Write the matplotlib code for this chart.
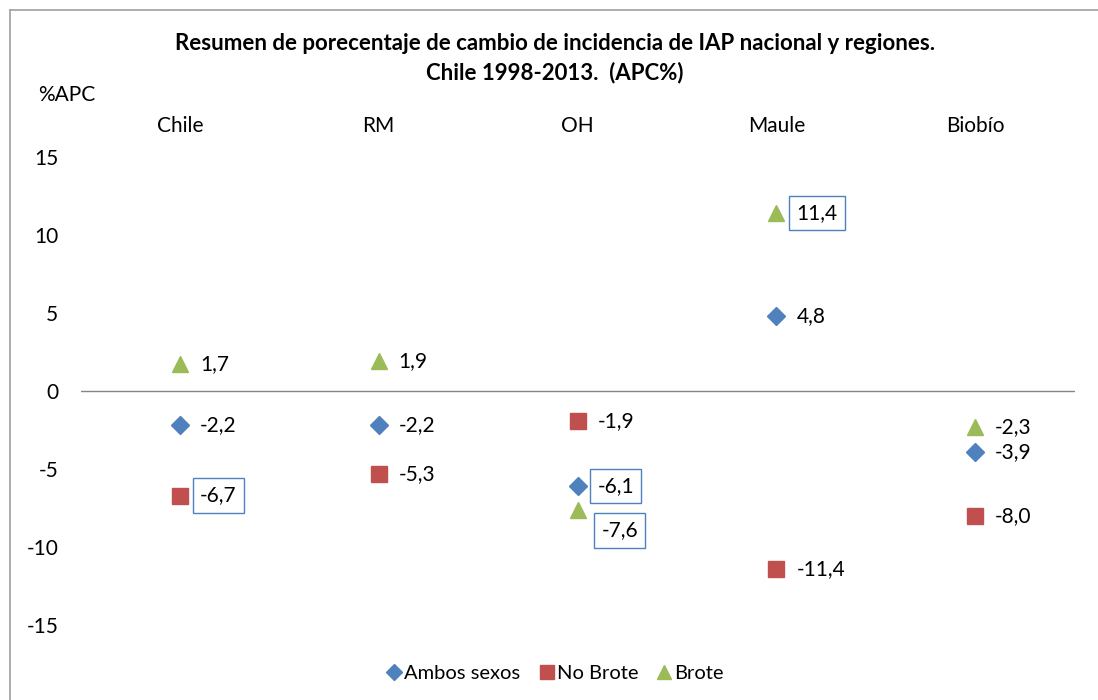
import matplotlib
matplotlib.use("Agg")
import matplotlib.pyplot as plt
from matplotlib.lines import Line2D

plt.rcParams['font.family'] = ['Lato', 'DejaVu Sans']

categories = ["Chile", "RM", "OH", "Maule", "Biobío"]
ambos = [-2.2, -2.2, -6.1, 4.8, -3.9]
no_brote = [-6.7, -5.3, -1.9, -11.4, -8.0]
brote = [1.7, 1.9, -7.6, 11.4, -2.3]
yticks = [15, 10, 5, 0, -5, -10, -15]

# labels with a box: (series, index)
boxed = {("ambos", 2), ("no_brote", 0), ("brote", 2), ("brote", 3)}

W, H = 1098, 700
fig = plt.figure(figsize=(W / 100, H / 100), dpi=100)
fig.patch.set_facecolor("white")

ymin, ymax = -19.0, 16.0
ppu = 15.6
y0pix = 391
top_pix = y0pix - ymax * ppu
bot_pix = y0pix - ymin * ppu
left_pix, right_pix = 80.5, 1074.5
ax = fig.add_axes([left_pix / W, 1 - bot_pix / H, (right_pix - left_pix) / W, (bot_pix - top_pix) / H])
ax.set_xlim(-0.5, 4.5)
ax.set_ylim(ymin, ymax)
for s in ax.spines.values():
    s.set_visible(False)
ax.axhline(0, color="#868686", lw=1.0, zorder=1)

FS = 15
ax.set_yticks(yticks)
ax.set_yticklabels([str(v) for v in yticks], fontsize=FS)
ax.tick_params(axis="y", length=0, pad=16)
ax.set_xticks(range(len(categories)))
ax.set_xticklabels(categories, fontsize=FS)
ax.xaxis.set_ticks_position("top")
ax.tick_params(axis="x", length=0, pad=4)

blue, red, green = "#4F81BD", "#C0504D", "#9BBB59"
x = list(range(len(categories)))
ax.plot(x, ambos, ls="none", marker="D", ms=9.5, color=blue, mec=blue, zorder=3)
ax.plot(x, no_brote, ls="none", marker="s", ms=11, color=red, mec=red, zorder=3)
ax.plot(x, brote, ls="none", marker="^", ms=12, color=green, mec=green, zorder=3)

def fmt(v):
    return f"{v:.1f}".replace(".", ",")

offsets = {("brote", 2): (24, -21)}
for name, vals in (("ambos", ambos), ("no_brote", no_brote), ("brote", brote)):
    for i, v in enumerate(vals):
        dx, dy = offsets.get((name, i), (20, 0))
        kw = {}
        if (name, i) in boxed:
            kw["bbox"] = dict(boxstyle="square,pad=0.35", fc="white", ec=blue, lw=1.0)
        ax.annotate(fmt(v), (i, v), xytext=(dx * 0.72, dy * 0.72), textcoords="offset points",
                    ha="left", va="center", fontsize=FS, zorder=4, **kw)

fig.text(555 / W, 1 - 44 / H, "Resumen de porecentaje de cambio de incidencia de IAP nacional y regiones.",
         ha="center", va="center", fontsize=16, fontweight="bold")
fig.text(555 / W, 1 - 73 / H, "Chile 1998-2013.  (APC%)",
         ha="center", va="center", fontsize=16, fontweight="bold")
fig.text(38 / W, 1 - 95 / H, "%APC", ha="left", va="center", fontsize=FS)

handles = [
    Line2D([], [], ls="none", marker="D", ms=8, color=blue),
    Line2D([], [], ls="none", marker="s", ms=10, color=red),
    Line2D([], [], ls="none", marker="^", ms=10, color=green),
]
fig.legend(handles, ["Ambos sexos", "No Brote", "Brote"], loc="center",
           bbox_to_anchor=(556 / W, 1 - 673 / H), ncol=3, frameon=False, fontsize=14.5,
           handlelength=0.6, handletextpad=0.2, columnspacing=1.0)

# outer chart border (cropped at right and bottom)
fig.add_artist(Line2D([9.5 / W, 1.0], [1 - 9.5 / H, 1 - 9.5 / H], color="#A6A6A6", lw=1.3,
                      transform=fig.transFigure))
fig.add_artist(Line2D([9.5 / W, 9.5 / W], [1 - 9.5 / H, 0.0], color="#A6A6A6", lw=1.3,
                      transform=fig.transFigure))

fig.savefig("out.png", dpi=100, facecolor="white")
